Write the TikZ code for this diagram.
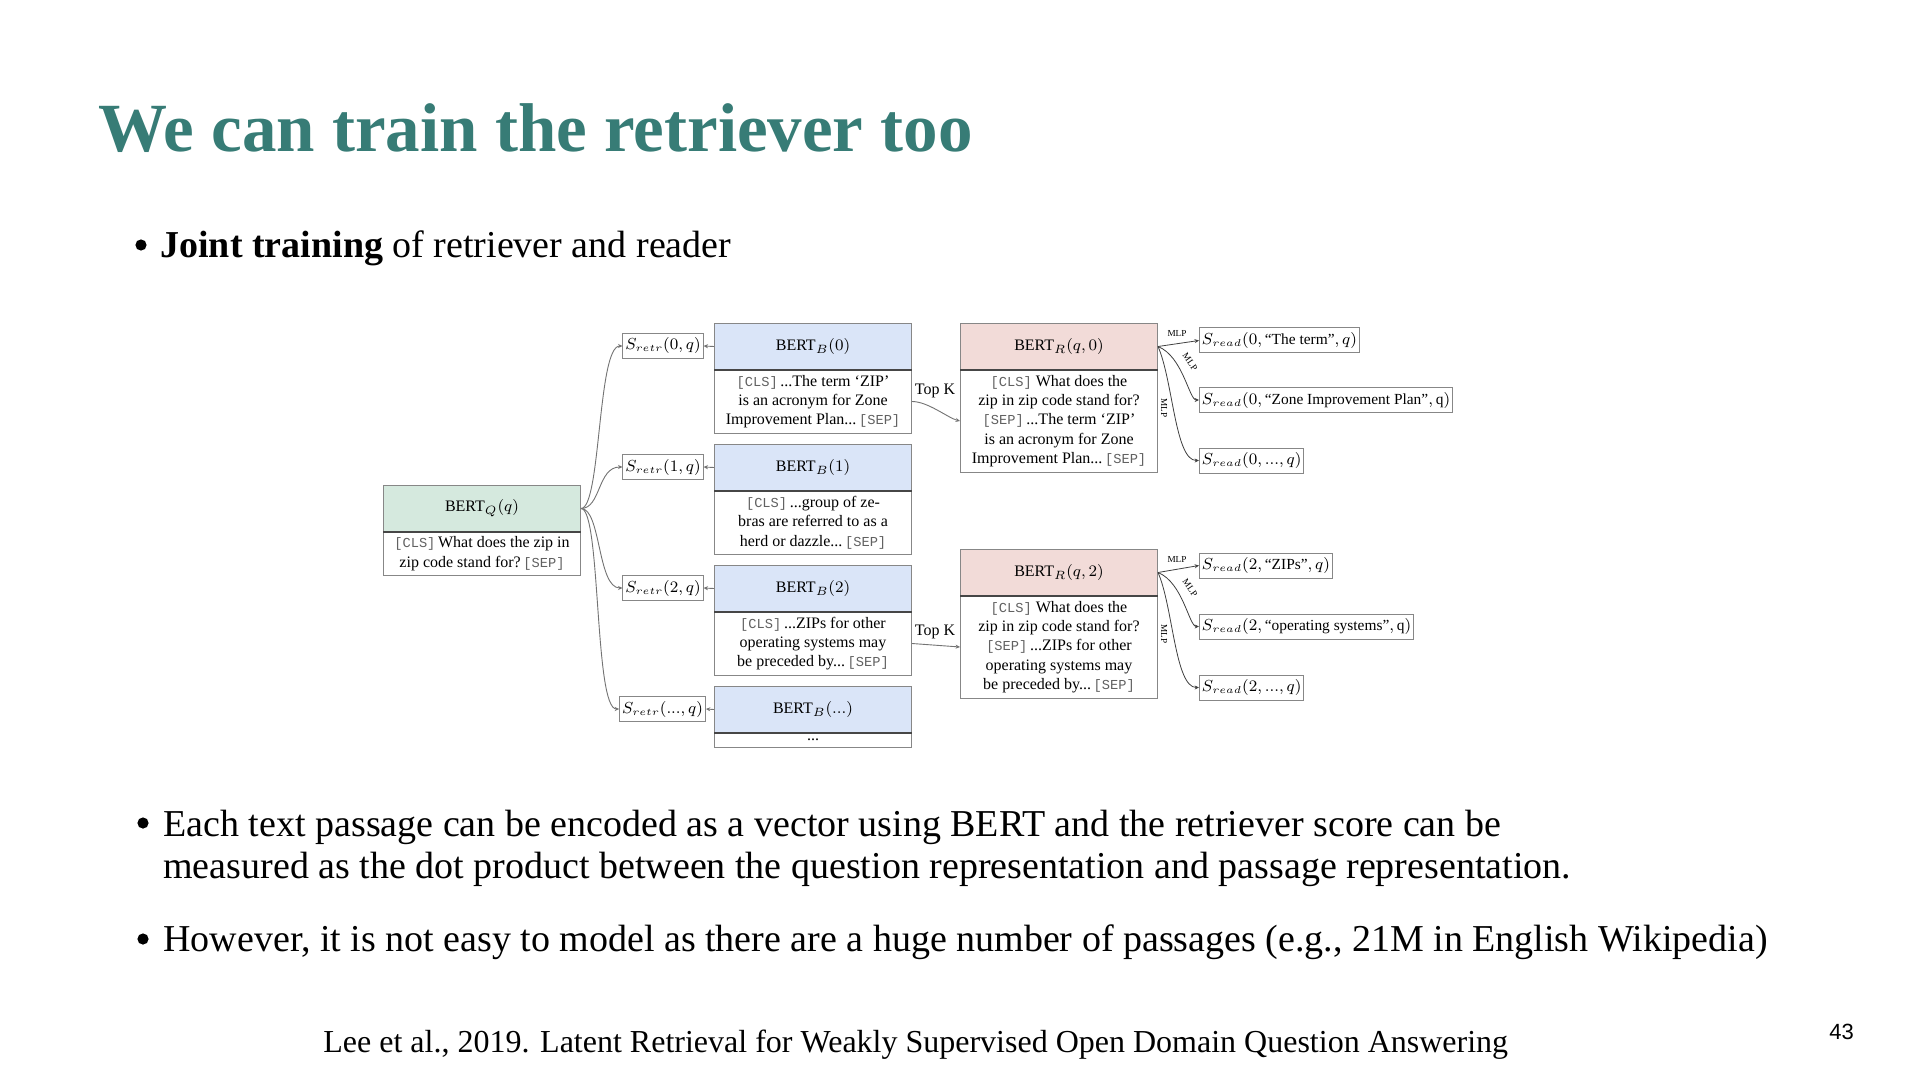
\documentclass[tikz,border=0pt]{standalone}
\usepackage{amsmath}
\usepackage{fontspec}
\setmainfont{Liberation Serif}
\newfontfamily\monof{Liberation Mono}
\newfontfamily\sansf{Liberation Sans}
\usetikzlibrary{arrows.meta}
\definecolor{titleteal}{RGB}{55,124,118}
\definecolor{hgreen}{RGB}{213,233,222}
\definecolor{hblue}{RGB}{218,229,248}
\definecolor{hpink}{RGB}{242,219,216}
\definecolor{boxgray}{RGB}{135,135,135}
\definecolor{divgray}{RGB}{70,70,70}
\definecolor{arrgray}{RGB}{115,115,115}
\newcommand{\dfont}{\fontsize{8}{9.65}\selectfont}
\newcommand{\tok}[1]{{\monof\fontsize{6.85}{9.65}\selectfont\color{black!62}#1}}
\tikzset{
  hdr/.style={draw=boxgray, line width=0.5pt, minimum width=98.5pt, minimum height=23pt,
    inner sep=0pt, anchor=north west, font=\dfont},
  bdy/.style={draw=boxgray, line width=0.5pt, minimum width=98.5pt, inner sep=0pt,
    anchor=north west, align=center, font=\dfont},
  sbox/.style={draw=boxgray, line width=0.5pt, minimum height=12.5pt, inner xsep=1.2pt, inner ysep=2pt,
    font=\fontsize{7.7}{9}\selectfont},
  divline/.style={draw=divgray, line width=0.9pt},
  conn/.style={draw=arrgray, line width=0.45pt, -{Stealth[length=2.2pt,width=2pt]}},
  mlp/.style={draw=black!75, line width=0.4pt, -{Stealth[length=2.2pt,width=2pt]}},
  mlplab/.style={font=\fontsize{4.6}{5}\selectfont, inner sep=0.3pt},
  bodytext/.style={anchor=base west, font=\fontsize{19}{22}\selectfont, inner sep=0pt},
  bul/.style={circle, fill=black, inner sep=0pt, minimum size=5.6pt},
}
\begin{document}
\begin{tikzpicture}[x=0.5pt,y=-0.5pt]
\fill[white] (0,0) rectangle (1920,1080);
\useasboundingbox (0,0) rectangle (1920,1080);

% title and text
\node[anchor=base west, inner sep=0pt, text=titleteal, font=\fontsize{34.5}{40}\selectfont\bfseries] (title) at (98,152) {We can train the retriever too};
\node[bul] (b1) at (141,245) {};
\node[bodytext] (t1) at (160,258) {\textbf{Joint training} of retriever and reader};
\node[bul] (b2) at (143,823) {};
\node[bodytext] (t2a) at (163,836) {Each text passage can be encoded as a vector using BERT and the retriever score can be};
\node[bodytext] (t2b) at (163,878) {measured as the dot product between the question representation and passage representation.};
\node[bul] (b3) at (143,939) {};
\node[bodytext] (t3) at (163,951) {However, it is not easy to model as there are a huge number of passages (e.g., 21M in English Wikipedia)};
\node[anchor=base west, inner sep=0pt, font=\fontsize{16}{19}\selectfont] (foot) at (323,1052) {Lee et al., 2019. Latent Retrieval for Weakly Supervised Open Domain Question Answering};
\node[anchor=base west, inner sep=0pt, font=\sansf\fontsize{11}{13}\selectfont] (page) at (1829,1039) {43};

% question encoder
\node[hdr, fill=hgreen] (qh) at (383,485) {BERT$_Q(q)$};
\node[bdy, minimum height=22pt] (qb) at (383,531) {\tok{[CLS]}\,What does the zip in\\zip code stand for?\,\tok{[SEP]}};
\draw[divline] (qh.south west) -- (qh.south east);

% block encoders
\node[hdr, fill=hblue] (b0h) at (714,323) {BERT$_B(0)$};
\node[bdy, minimum height=32pt] (b0b) at (714,369) {\tok{[CLS]}\,...The term `ZIP'\\is an acronym for Zone\\Improvement Plan...\,\tok{[SEP]}};
\node[hdr, fill=hblue] (b1h) at (714,444) {BERT$_B(1)$};
\node[bdy, minimum height=32pt] (b1b) at (714,490) {\tok{[CLS]}\,...group of ze-\\bras are referred to as a\\herd or dazzle...\,\tok{[SEP]}};
\node[hdr, fill=hblue] (b2h) at (714,565) {BERT$_B(2)$};
\node[bdy, minimum height=32pt] (b2b) at (714,611) {\tok{[CLS]}\,...ZIPs for other\\operating systems may\\be preceded by...\,\tok{[SEP]}};
\node[hdr, fill=hblue] (b3h) at (714,686) {BERT$_B(...)$};
\node[bdy, minimum height=7.5pt] (b3b) at (714,732) {...};
\foreach \n in {b0h,b1h,b2h,b3h} \draw[divline] (\n.south west) -- (\n.south east);

% retrieval scores
\node[sbox] (s0) at (663,346) {$S_{retr}(0,q)$};
\node[sbox] (s1) at (663,467) {$S_{retr}(1,q)$};
\node[sbox] (s2) at (663,588) {$S_{retr}(2,q)$};
\node[sbox] (s3) at (662.5,709) {$S_{retr}(...,q)$};
\foreach \s in {s0,s1,s2,s3}
  \draw[conn] (qh.east) .. controls +(20,0) and +(-25,0) .. (\s.west);
\draw[conn] (b0h.west) -- (s0.east);
\draw[conn] (b1h.west) -- (s1.east);
\draw[conn] (b2h.west) -- (s2.east);
\draw[conn] (b3h.west) -- (s3.east);

% readers
\node[hdr, fill=hpink] (r0h) at (960,323) {BERT$_R(q,0)$};
\node[bdy, minimum height=51.5pt] (r0b) at (960,369) {\tok{[CLS]} What does the\\zip in zip code stand for?\\\tok{[SEP]}\,...The term `ZIP'\\is an acronym for Zone\\Improvement Plan...\,\tok{[SEP]}};
\node[hdr, fill=hpink] (r2h) at (960,549) {BERT$_R(q,2)$};
\node[bdy, minimum height=51.5pt] (r2b) at (960,595) {\tok{[CLS]} What does the\\zip in zip code stand for?\\\tok{[SEP]}\,...ZIPs for other\\operating systems may\\be preceded by...\,\tok{[SEP]}};
\draw[divline] (r0h.south west) -- (r0h.south east);
\draw[divline] (r2h.south west) -- (r2h.south east);

\draw[conn] (b0b.east) .. controls +(16,0) and +(-12,-3) .. (r0b.west);
\node[font=\dfont, inner sep=0pt] (tk0) at (935,391) {Top K};
\draw[conn] (b2b.east) -- (r2b.west);
\node[font=\dfont, inner sep=0pt] (tk2) at (935,632) {Top K};

% reader scores
\node[sbox, anchor=west] (p00) at (1199,340.5) {$S_{read}(0,\text{“The term”},q)$};
\node[sbox, anchor=west] (p01) at (1199,400) {$S_{read}(0,\text{“Zone Improvement Plan”},\mathrm{q})$};
\node[sbox, anchor=west] (p02) at (1199,460.5) {$S_{read}(0,...,q)$};
\node[sbox, anchor=west] (p20) at (1199,565.5) {$S_{read}(2,\text{“ZIPs”},q)$};
\node[sbox, anchor=west] (p21) at (1199,626.5) {$S_{read}(2,\text{“operating systems”},\mathrm{q})$};
\node[sbox, anchor=west] (p22) at (1199,687.5) {$S_{read}(2,...,q)$};

\draw[mlp] (r0h.east) -- (p00.west);
\draw[mlp] (r0h.east) .. controls +(25,10) and +(-10,0) .. (p01.west);
\draw[mlp] (r0h.east) .. controls +(15,34) and +(-24,0) .. (p02.west);
\node[mlplab] (m00) at (1177,333) {MLP};
\node[mlplab, rotate=-55] (m01) at (1190,362) {MLP};
\node[mlplab, rotate=-90] (m02) at (1164,408) {MLP};

\draw[mlp] (r2h.east) -- (p20.west);
\draw[mlp] (r2h.east) .. controls +(25,10) and +(-10,0) .. (p21.west);
\draw[mlp] (r2h.east) .. controls +(15,34) and +(-24,0) .. (p22.west);
\node[mlplab] (m20) at (1177,559) {MLP};
\node[mlplab, rotate=-55] (m21) at (1190,588) {MLP};
\node[mlplab, rotate=-90] (m22) at (1164,634) {MLP};
\end{tikzpicture}
\end{document}
